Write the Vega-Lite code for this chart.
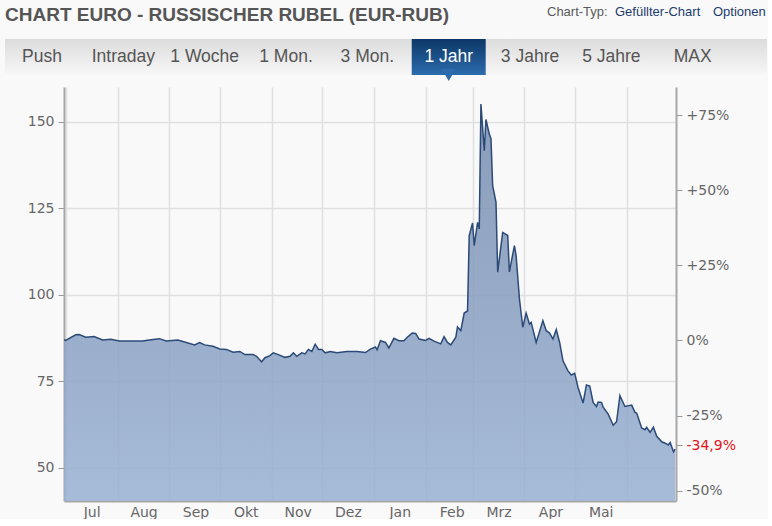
{
  "$schema": "https://vega.github.io/schema/vega-lite/v6.json",
  "background": "#f9f9f9",
  "padding": {"left": 5, "top": 6, "right": 0, "bottom": 0},
  "spacing": 5,
  "config": {
    "view": {"stroke": null},
    "font": "DejaVu Sans",
    "axis": {"labelFont": "DejaVu Sans", "labelFontSize": 14, "labelColor": "#666666"}
  },
  "vconcat": [
    {
      "spacing": 0,
      "hconcat": [
        {"width": 542, "height": 9, "data": {"values": []}, "mark": "point",
         "title": {"text": "CHART EURO - RUSSISCHER RUBEL (EUR-RUB)", "anchor": "start", "font": "Liberation Sans", "fontSize": 19, "fontWeight": "bold", "color": "#555555", "offset": 0}},
        {"width": 68, "height": 9, "data": {"values": []}, "mark": "point",
         "title": {"text": "Chart-Typ:", "anchor": "start", "font": "Liberation Sans", "fontSize": 13, "fontWeight": "normal", "color": "#5a5a5a", "offset": 6}},
        {"width": 98, "height": 9, "data": {"values": []}, "mark": "point",
         "title": {"text": "Gefüllter-Chart", "anchor": "start", "font": "Liberation Sans", "fontSize": 13, "fontWeight": "normal", "color": "#1d3c6e", "offset": 6}},
        {"width": 55, "height": 9, "data": {"values": []}, "mark": "point",
         "title": {"text": "Optionen", "anchor": "start", "font": "Liberation Sans", "fontSize": 13, "fontWeight": "normal", "color": "#1d3c6e", "offset": 6}}
      ]
    },
    {
      "width": 762,
      "height": 36,
      "view": {"fill": {"gradient": "linear", "x1": 0, "y1": 0, "x2": 0, "y2": 1, "stops": [{"offset": 0, "color": "#dcdcdc"}, {"offset": 1, "color": "#f7f7f7"}]}, "stroke": null},
      "data": {"values": [
        {"tab": "Push"}, {"tab": "Intraday"}, {"tab": "1 Woche"}, {"tab": "1 Mon."}, {"tab": "3 Mon."},
        {"tab": "1 Jahr"}, {"tab": "3 Jahre"}, {"tab": "5 Jahre"}, {"tab": "MAX"}
      ]},
      "encoding": {
        "x": {"field": "tab", "type": "nominal", "axis": null,
              "scale": {"domain": ["Push", "Intraday", "1 Woche", "1 Mon.", "3 Mon.", "1 Jahr", "3 Jahre", "5 Jahre", "MAX"],
                        "paddingInner": 0.0904, "paddingOuter": 0.229, "align": 0}}
      },
      "layer": [
        {
          "transform": [{"filter": "datum.tab == '1 Jahr'"}],
          "mark": {"type": "rect", "color": {"gradient": "linear", "x1": 0, "y1": 0, "x2": 0, "y2": 1, "stops": [{"offset": 0, "color": "#0c3766"}, {"offset": 1, "color": "#2c6cae"}]}}
        },
        {
          "transform": [{"filter": "datum.tab == '1 Jahr'"}],
          "mark": {"type": "point", "shape": "triangle-down", "size": 196, "filled": true, "opacity": 1, "strokeWidth": 0, "color": "#2b6bad", "y": "height"}
        },
        {
          "mark": {"type": "text", "font": "Liberation Sans", "fontSize": 17.5, "baseline": "middle"},
          "encoding": {
            "text": {"field": "tab"},
            "color": {"condition": {"test": "datum.tab == '1 Jahr'", "value": "#ffffff"}, "value": "#555555"}
          }
        }
      ]
    },
    {
      "spacing": 0,
      "hconcat": [
        {"width": 1, "height": 1, "data": {"values": []}, "mark": "point"},
        {
          "width": 612,
          "height": 414,
          "data": {"values": [
            {"date": "2021-06-30", "kurs": 87.0},
            {"date": "2021-07-01", "kurs": 86.8},
            {"date": "2021-07-07", "kurs": 88.4},
            {"date": "2021-07-09", "kurs": 88.5},
            {"date": "2021-07-13", "kurs": 87.7},
            {"date": "2021-07-18", "kurs": 87.9},
            {"date": "2021-07-23", "kurs": 86.9},
            {"date": "2021-07-28", "kurs": 87.1},
            {"date": "2021-08-02", "kurs": 86.6},
            {"date": "2021-08-10", "kurs": 86.6},
            {"date": "2021-08-16", "kurs": 86.6},
            {"date": "2021-08-21", "kurs": 87.0},
            {"date": "2021-08-26", "kurs": 87.3},
            {"date": "2021-08-30", "kurs": 86.6},
            {"date": "2021-09-06", "kurs": 86.9},
            {"date": "2021-09-11", "kurs": 86.2},
            {"date": "2021-09-16", "kurs": 85.5},
            {"date": "2021-09-19", "kurs": 86.2},
            {"date": "2021-09-22", "kurs": 85.5},
            {"date": "2021-09-27", "kurs": 85.1},
            {"date": "2021-10-01", "kurs": 84.3},
            {"date": "2021-10-05", "kurs": 84.2},
            {"date": "2021-10-09", "kurs": 83.4},
            {"date": "2021-10-13", "kurs": 83.6},
            {"date": "2021-10-16", "kurs": 82.7},
            {"date": "2021-10-21", "kurs": 82.7},
            {"date": "2021-10-23", "kurs": 82.2},
            {"date": "2021-10-26", "kurs": 80.6},
            {"date": "2021-10-28", "kurs": 81.8},
            {"date": "2021-10-31", "kurs": 82.4},
            {"date": "2021-11-02", "kurs": 83.2},
            {"date": "2021-11-05", "kurs": 82.7},
            {"date": "2021-11-09", "kurs": 81.9},
            {"date": "2021-11-12", "kurs": 82.2},
            {"date": "2021-11-14", "kurs": 83.2},
            {"date": "2021-11-16", "kurs": 82.2},
            {"date": "2021-11-19", "kurs": 83.2},
            {"date": "2021-11-21", "kurs": 82.9},
            {"date": "2021-11-23", "kurs": 84.2},
            {"date": "2021-11-25", "kurs": 83.6},
            {"date": "2021-11-27", "kurs": 85.7},
            {"date": "2021-11-29", "kurs": 84.2},
            {"date": "2021-12-01", "kurs": 84.2},
            {"date": "2021-12-03", "kurs": 83.2},
            {"date": "2021-12-06", "kurs": 83.6},
            {"date": "2021-12-10", "kurs": 83.2},
            {"date": "2021-12-16", "kurs": 83.6},
            {"date": "2021-12-22", "kurs": 83.6},
            {"date": "2021-12-27", "kurs": 83.3},
            {"date": "2021-12-30", "kurs": 84.3},
            {"date": "2022-01-02", "kurs": 84.9},
            {"date": "2022-01-03", "kurs": 84.1},
            {"date": "2022-01-05", "kurs": 86.7},
            {"date": "2022-01-08", "kurs": 86.2},
            {"date": "2022-01-10", "kurs": 84.6},
            {"date": "2022-01-13", "kurs": 87.4},
            {"date": "2022-01-16", "kurs": 86.7},
            {"date": "2022-01-19", "kurs": 86.7},
            {"date": "2022-01-21", "kurs": 87.7},
            {"date": "2022-01-24", "kurs": 88.9},
            {"date": "2022-01-26", "kurs": 88.8},
            {"date": "2022-01-28", "kurs": 87.2},
            {"date": "2022-02-01", "kurs": 86.8},
            {"date": "2022-02-03", "kurs": 87.4},
            {"date": "2022-02-06", "kurs": 86.6},
            {"date": "2022-02-10", "kurs": 85.8},
            {"date": "2022-02-12", "kurs": 87.9},
            {"date": "2022-02-14", "kurs": 86.2},
            {"date": "2022-02-16", "kurs": 85.5},
            {"date": "2022-02-19", "kurs": 87.7},
            {"date": "2022-02-20", "kurs": 90.7},
            {"date": "2022-02-22", "kurs": 89.6},
            {"date": "2022-02-24", "kurs": 94.7},
            {"date": "2022-02-26", "kurs": 95.3},
            {"date": "2022-02-27", "kurs": 117.1},
            {"date": "2022-03-01", "kurs": 120.7},
            {"date": "2022-03-02", "kurs": 114.2},
            {"date": "2022-03-04", "kurs": 120.9},
            {"date": "2022-03-05", "kurs": 119.0},
            {"date": "2022-03-06", "kurs": 155.1},
            {"date": "2022-03-08", "kurs": 141.6},
            {"date": "2022-03-09", "kurs": 150.6},
            {"date": "2022-03-11", "kurs": 146.4},
            {"date": "2022-03-12", "kurs": 145.1},
            {"date": "2022-03-13", "kurs": 131.5},
            {"date": "2022-03-15", "kurs": 126.7},
            {"date": "2022-03-16", "kurs": 106.5},
            {"date": "2022-03-19", "kurs": 118.0},
            {"date": "2022-03-22", "kurs": 117.1},
            {"date": "2022-03-23", "kurs": 106.6},
            {"date": "2022-03-26", "kurs": 114.2},
            {"date": "2022-03-27", "kurs": 111.3},
            {"date": "2022-03-29", "kurs": 98.8},
            {"date": "2022-03-31", "kurs": 90.6},
            {"date": "2022-04-02", "kurs": 94.7},
            {"date": "2022-04-04", "kurs": 91.5},
            {"date": "2022-04-05", "kurs": 92.0},
            {"date": "2022-04-08", "kurs": 86.2},
            {"date": "2022-04-12", "kurs": 92.5},
            {"date": "2022-04-14", "kurs": 89.6},
            {"date": "2022-04-16", "kurs": 88.9},
            {"date": "2022-04-18", "kurs": 87.2},
            {"date": "2022-04-20", "kurs": 89.9},
            {"date": "2022-04-22", "kurs": 86.2},
            {"date": "2022-04-24", "kurs": 80.9},
            {"date": "2022-04-27", "kurs": 78.0},
            {"date": "2022-04-29", "kurs": 76.8},
            {"date": "2022-05-01", "kurs": 77.3},
            {"date": "2022-05-03", "kurs": 73.2},
            {"date": "2022-05-06", "kurs": 68.7},
            {"date": "2022-05-08", "kurs": 73.9},
            {"date": "2022-05-10", "kurs": 73.6},
            {"date": "2022-05-12", "kurs": 68.9},
            {"date": "2022-05-14", "kurs": 67.7},
            {"date": "2022-05-15", "kurs": 69.0},
            {"date": "2022-05-17", "kurs": 68.9},
            {"date": "2022-05-18", "kurs": 67.5},
            {"date": "2022-05-21", "kurs": 65.5},
            {"date": "2022-05-24", "kurs": 62.3},
            {"date": "2022-05-26", "kurs": 63.3},
            {"date": "2022-05-28", "kurs": 70.8},
            {"date": "2022-05-31", "kurs": 67.7},
            {"date": "2022-06-04", "kurs": 68.1},
            {"date": "2022-06-06", "kurs": 66.0},
            {"date": "2022-06-07", "kurs": 65.8},
            {"date": "2022-06-10", "kurs": 61.5},
            {"date": "2022-06-12", "kurs": 61.0},
            {"date": "2022-06-13", "kurs": 61.7},
            {"date": "2022-06-15", "kurs": 60.2},
            {"date": "2022-06-17", "kurs": 61.7},
            {"date": "2022-06-19", "kurs": 59.1},
            {"date": "2022-06-22", "kurs": 57.5},
            {"date": "2022-06-24", "kurs": 57.1},
            {"date": "2022-06-26", "kurs": 56.6},
            {"date": "2022-06-27", "kurs": 57.3},
            {"date": "2022-06-29", "kurs": 54.6},
            {"date": "2022-06-30", "kurs": 55.4}
          ]},
          "encoding": {
            "x": {
              "field": "date", "type": "temporal",
              "scale": {"type": "utc", "domain": [{"year": 2021, "month": 6, "date": 30, "utc": true}, {"year": 2022, "month": 6, "date": 30, "hours": 12, "utc": true}]},
              "axis": {
                "title": null,
                "values": [
                  {"year": 2021, "month": 7, "date": 1, "utc": true},
                  {"year": 2021, "month": 8, "date": 1, "utc": true},
                  {"year": 2021, "month": 9, "date": 1, "utc": true},
                  {"year": 2021, "month": 10, "date": 1, "utc": true},
                  {"year": 2021, "month": 11, "date": 1, "utc": true},
                  {"year": 2021, "month": 12, "date": 1, "utc": true},
                  {"year": 2022, "month": 1, "date": 1, "utc": true},
                  {"year": 2022, "month": 2, "date": 1, "utc": true},
                  {"year": 2022, "month": 3, "date": 1, "utc": true},
                  {"year": 2022, "month": 4, "date": 1, "utc": true},
                  {"year": 2022, "month": 5, "date": 1, "utc": true},
                  {"year": 2022, "month": 6, "date": 1, "utc": true}
                ],
                "labelExpr": "utcmonth(datum.value) == 5 ? '' : ['Jan','Feb','Mrz','Apr','Mai','Jun','Jul','Aug','Sep','Okt','Nov','Dez'][utcmonth(datum.value)]",
                "grid": true, "gridColor": "#e0e0e0", "gridWidth": 1.5,
                "ticks": false, "tickSize": 0,
                "labelPadding": 4, "labelOffset": 26, "labelFlush": false, "labelOverlap": false,
                "domainColor": "#a8a8a8", "domainWidth": 2
              }
            }
          },
          "layer": [
            {
              "mark": {"type": "area", "clip": true, "fillOpacity": 0.85,
                       "color": {"gradient": "linear", "x1": 0, "y1": 0, "x2": 0, "y2": 1, "stops": [{"offset": 0, "color": "#768cae"}, {"offset": 1, "color": "#a4bedf"}]}},
              "encoding": {
                "y": {"field": "kurs", "type": "quantitative",
                      "scale": {"domain": [40.4, 160], "nice": false, "zero": false},
                      "axis": {"orient": "left", "title": null, "values": [50, 75, 100, 125, 150],
                               "grid": true, "gridColor": "#e0e0e0", "gridWidth": 1.5,
                               "tickSize": 6, "tickColor": "#999999", "labelPadding": 4,
                               "domainColor": "#a8a8a8", "domainWidth": 2, "minExtent": 58}}
              }
            },
            {
              "mark": {"type": "line", "clip": true, "color": "#2c4a78", "strokeWidth": 1.5},
              "encoding": {
                "y": {"field": "kurs", "type": "quantitative",
                      "scale": {"domain": [40.4, 160], "nice": false, "zero": false},
                      "axis": {"orient": "right", "title": null, "grid": false,
                               "values": [43.4, 56.5, 65.1, 86.8, 108.5, 130.2, 151.9],
                               "labelExpr": "(datum.value/86.8 - 1 > 0.001 ? '+' : (datum.value/86.8 - 1 < -0.001 ? '-' : '')) + replace(format(abs(datum.value/86.8 - 1)*100, abs(abs(datum.value/86.8 - 1)*100 - round(abs(datum.value/86.8 - 1)*100)) < 0.05 ? '.0f' : '.1f'), '.', ',') + '%'",
                               "labelColor": {"condition": {"test": "datum.value == 56.5", "value": "#e3141b"}, "value": "#666666"},
                               "tickSize": 6, "tickColor": "#999999", "labelPadding": 4,
                               "domainColor": "#a8a8a8", "domainWidth": 2}}
              }
            }
          ],
          "resolve": {"scale": {"y": "independent"}}
        }
      ]
    }
  ]
}
